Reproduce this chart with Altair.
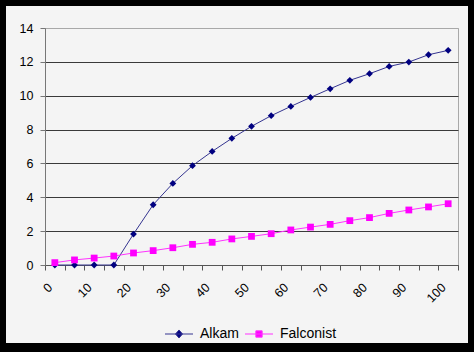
import altair as alt
import pandas as pd

x_vals = list(range(0, 105, 5))
alkam = [0, 0, 0, 0, 1.83, 3.56, 4.82, 5.87, 6.71, 7.48, 8.19, 8.82, 9.37, 9.90,
         10.41, 10.91, 11.30, 11.73, 11.99, 12.42, 12.68]
falconist = [0.14, 0.30, 0.41, 0.53, 0.71, 0.85, 1.02, 1.22, 1.34, 1.54, 1.69, 1.85,
             2.07, 2.24, 2.40, 2.62, 2.80, 3.05, 3.25, 3.43, 3.62]
series = ["Alkam", "Falconist"]
y_ticks = [0, 2, 4, 6, 8, 10, 12, 14]

df = pd.DataFrame({
    "x": x_vals * 2,
    "y": alkam + falconist,
    "series": [series[0]] * len(x_vals) + [series[1]] * len(x_vals),
})

W, H = 413, 237
PL, PT, PR, PB = 45, 28, 16, 87

line_colors = ["#343490", "#ff33ff"]
marker_colors = ["#000080", "#ff00ff"]

x_enc = alt.X(
    "x:O",
    scale=alt.Scale(type="band", paddingInner=0, paddingOuter=0),
    axis=alt.Axis(
        title=None, tickBand="extent", labelAngle=315,
        labelAlign="right", labelBaseline="bottom",
        labelExpr="datum.value % 10 == 0 ? datum.label : ''",
        labelFontSize=12.5, labelColor="#000", labelFont="Liberation Sans",
        domainColor="#555", tickColor="#555", tickSize=5, labelPadding=20,
        grid=False, labelOverlap=False,
    ),
)
y_enc = alt.Y(
    "y:Q",
    scale=alt.Scale(domain=[0, 14], nice=False),
    axis=alt.Axis(
        title=None, values=y_ticks, labelFontSize=12.5, labelColor="#000",
        labelFont="Liberation Sans", domainColor="#777", tickColor="#777",
        tickSize=5, labelPadding=7, grid=True,
        gridColor={"condition": {"test": "datum.value === 14", "value": "#a8a8a8"},
                   "value": "#3a3a3a"},
    ),
)

diamond_path = "M-4,0H4M-1,0L0,-1.15L1,0L0,1.15Z"
square_path = "M-4,0H4M-0.9,-0.9H0.9V0.9H-0.9Z"

lines = alt.Chart(df).mark_line(strokeWidth=1).encode(
    x=x_enc, y=y_enc,
    stroke=alt.Stroke("series:N", scale=alt.Scale(domain=series, range=line_colors), legend=None),
)

points = alt.Chart(df).mark_point(filled=True, size=46, opacity=1).encode(
    x=x_enc, y=y_enc,
    color=alt.Color("series:N", scale=alt.Scale(domain=series, range=marker_colors), legend=None),
    shape=alt.Shape("series:N", scale=alt.Scale(domain=series, range=["diamond", "square"]), legend=None),
)

leg_kw = dict(
    title=None, orient="none", legendX=127, legendY=299,
    direction="horizontal", labelFontSize=14, labelFont="Liberation Sans",
    labelColor="#000", symbolSize=49, symbolStrokeWidth=1, symbolOpacity=1,
    labelOffset=14, columnPadding=4, padding=0,
)
legend_layer = alt.Chart(df).mark_point(filled=True, opacity=0, size=49).encode(
    x=x_enc, y=y_enc,
    fill=alt.Fill("series:N", scale=alt.Scale(domain=series, range=marker_colors), legend=alt.Legend(**leg_kw)),
    stroke=alt.Stroke("series:N", scale=alt.Scale(domain=series, range=line_colors), legend=alt.Legend(**leg_kw)),
    shape=alt.Shape("series:N", scale=alt.Scale(domain=series, range=[diamond_path, square_path]), legend=alt.Legend(**leg_kw)),
)

frame = alt.Chart(pd.DataFrame({"a": [0]})).mark_rect(
    fillOpacity=0, stroke="#000", strokeWidth=12
).encode(
    x=alt.value(-PL), x2=alt.value(W + PR),
    y=alt.value(-PT), y2=alt.value(H + PB - 3),
)

chart = alt.layer(lines, points, legend_layer, frame).resolve_scale(
    color="independent", shape="independent", fill="independent", stroke="independent"
).properties(
    width=W, height=H,
    padding={"left": PL, "top": PT, "right": PR, "bottom": PB},
    autosize=alt.AutoSizeParams(type="none"),
    background="#f4f4f4",
).configure_view(stroke="#a8a8a8", strokeWidth=1)

chart.save("out.html", embed_options={"renderer": "svg", "actions": False})
